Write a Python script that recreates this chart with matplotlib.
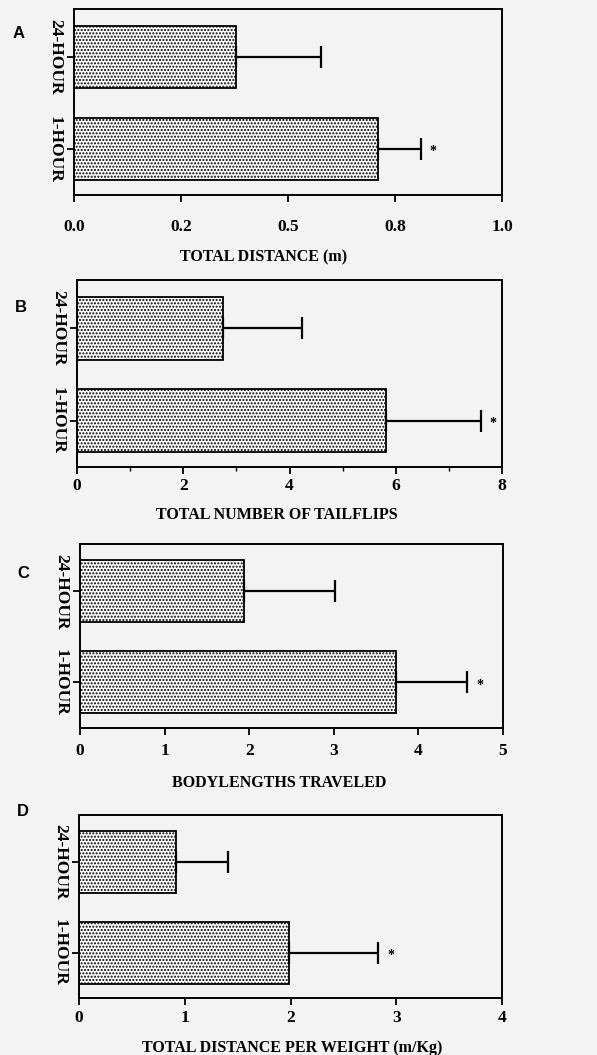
import numpy as np
import matplotlib.pyplot as plt
from matplotlib.ticker import MultipleLocator

# datos por panel (orden: 1-HOUR, 24-HOUR)
groups = ["1-HOUR", "24-HOUR"]

dist_mean = [0.71, 0.378]
dist_err = [0.10, 0.20]

flips_mean = [5.82, 2.75]
flips_err = [1.78, 1.49]

bodyl_mean = [3.73, 1.94]
bodyl_err = [0.85, 1.08]

perw_mean = [1.99, 0.92]
perw_err = [0.84, 0.49]

letters = ["A", "B", "C", "D"]
xlabels = ["TOTAL DISTANCE (m)", "TOTAL NUMBER OF TAILFLIPS",
           "BODYLENGTHS TRAVELED", "TOTAL DISTANCE PER WEIGHT (m/Kg)"]
xticks_A = [0, 0.25, 0.5, 0.75, 1.0]
xticklabels_A = ["0.0", "0.2", "0.5", "0.8", "1.0"]

BG = "#f3f3f3"
W, H = 597, 1055

plt.rcParams['font.family'] = ['Liberation Serif', 'DejaVu Serif']
plt.rcParams['font.weight'] = 'bold'
plt.rcParams['hatch.linewidth'] = 1.0
plt.rcParams['hatch.color'] = '#6a6a6a'

fig = plt.figure(figsize=(W / 100, H / 100), dpi=100, facecolor=BG)

# caja de cada panel en pixeles: izq, der, arriba, abajo
boxes = [(74, 502, 9, 195), (77, 502, 280, 467),
         (80, 503, 544, 728), (79, 502, 815, 998)]
letter_pos = [(19, 33), (21, 308), (23, 573), (23, 812)]
tick_pads = [12, 3, 6, 4]
label_pads = [11, 9, 11, 10]
label_xc = [264, 277, 279, 292]   # centro del titulo del eje x (px)

panels = [(dist_mean, dist_err, 1.0), (flips_mean, flips_err, 8),
          (bodyl_mean, bodyl_err, 5), (perw_mean, perw_err, 4)]

y = np.arange(len(groups))

for i, (mean, err, xmax) in enumerate(panels):
    l, r, t, b = boxes[i]
    ax = fig.add_axes([l / W, 1 - b / H, (r - l) / W, (b - t) / H])
    ax.set_facecolor(BG)
    ax.barh(y, mean, height=0.68, color='white', edgecolor='black',
            linewidth=1.3, hatch='.....')
    ax.errorbar(mean, y, xerr=[[0, 0], err], fmt='none', ecolor='black',
                elinewidth=1.6, capsize=8, capthick=1.6)
    for m, e, yy in zip(mean, err, y):
        if yy == 0:
            ax.annotate("*", (m + e, yy), xytext=(9, -2),
                        textcoords='offset points', ha='center', va='center',
                        fontsize=10, fontweight='bold')
    ax.set_xlim(0, xmax)
    ax.set_ylim(-0.5, 1.52)
    ax.set_yticks(y)
    ax.set_yticklabels(groups, rotation=-90, va='center', fontsize=12.5)
    if i == 0:
        ax.set_xticks(xticks_A)
        ax.set_xticklabels(xticklabels_A)
    elif i == 1:
        ax.xaxis.set_major_locator(MultipleLocator(2))
        ax.xaxis.set_minor_locator(MultipleLocator(1))
    else:
        ax.xaxis.set_major_locator(MultipleLocator(1))
    ax.tick_params(axis='x', which='major', length=5, width=1.3,
                   labelsize=12.5, pad=tick_pads[i])
    ax.tick_params(axis='x', which='minor', length=3, width=1.0)
    ax.tick_params(axis='y', length=5, width=1.3, pad=3)
    for s in ax.spines.values():
        s.set_linewidth(1.4)
    ax.set_xlabel(xlabels[i], fontsize=11.5, fontweight='bold',
                  labelpad=label_pads[i])
    ax.xaxis.label.set_x((label_xc[i] - l) / (r - l))
    lx, ly = letter_pos[i]
    fig.text(lx / W, 1 - ly / H, letters[i], family='Liberation Sans',
             fontsize=12, fontweight='bold', ha='center', va='center')

fig.savefig("out.png", dpi=100, facecolor=BG)
